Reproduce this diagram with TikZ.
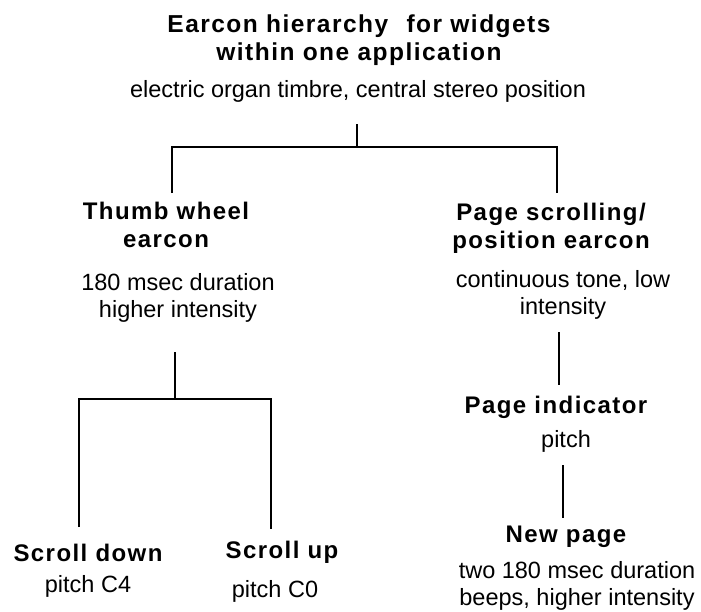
\documentclass[tikz,border=0pt]{standalone}
\usepackage{fontspec}
\setmainfont{Liberation Sans}
\newfontfamily\headfont{Liberation Sans}[LetterSpace=6]
\tikzstyle{heading}=[inner sep=0pt, anchor=base, align=center, font=\headfont\bfseries\fontsize{24}{28}\selectfont]
\tikzstyle{detail}=[inner sep=0pt, anchor=base, align=center, font=\fontsize{23.5}{27}\selectfont]
\tikzstyle{branch}=[line width=2pt]

\begin{document}
\begin{tikzpicture}[x=1pt,y=-1pt]
    \useasboundingbox (0,0) rectangle (701,611);

    % Root
    \draw (359,60) node[heading, font=\headfont\bfseries\fontsize{24.5}{28}\selectfont] (root) {Earcon hierarchy\hspace{0.75em}for widgets\\within one application};
    \draw (358,97) node[detail] (rootinfo) {electric organ timbre, central stereo position};

    % Thumb wheel side
    \draw (166,247) node[heading] (thumb) {Thumb wheel\\earcon};
    \draw (178,317) node[detail] (thumbinfo) {180 msec duration\\higher intensity};
    \draw (88,561) node[heading] (down) {Scroll down};
    \draw (88,592) node[detail] (downinfo) {pitch C4};
    \draw (282,558) node[heading] (up) {Scroll up};
    \draw (275,597) node[detail] (upinfo) {pitch C0};

    % Page scrolling side
    \draw (551,248) node[heading] (page) {Page scrolling/\\position earcon};
    \draw (563,314) node[detail] (pageinfo) {continuous tone, low\\intensity};
    \draw (556,413) node[heading] (indicator) {Page indicator};
    \draw (566,447) node[detail] (indinfo) {pitch};
    \draw (566,542) node[heading] (newpage) {New page};
    \draw (577,605) node[detail] (newinfo) {two 180 msec duration\\beeps, higher intensity};

    % Junctions
    \coordinate (rootstem) at (357,124);
    \coordinate (rootfork) at (357,147);
    \coordinate (thumbleg) at (172,193);
    \coordinate (pageleg) at (557,193);
    \coordinate (thumbstem) at (175,352);
    \coordinate (thumbfork) at (175,399);
    \coordinate (downleg) at (79,527);
    \coordinate (upleg) at (271,529);
    \coordinate (pagestem) at (559,332);
    \coordinate (indtop) at (559,385);
    \coordinate (indstem) at (563,465);
    \coordinate (newtop) at (563,518);

    % Branches
    \draw[branch] (rootstem) -- (rootfork);
    \draw[branch] (thumbleg) |- (rootfork) -| (pageleg);
    \draw[branch] (thumbstem) -- (thumbfork);
    \draw[branch] (downleg) |- (thumbfork) -| (upleg);
    \draw[branch] (pagestem) -- (indtop);
    \draw[branch] (indstem) -- (newtop);

\end{tikzpicture}
\end{document}
